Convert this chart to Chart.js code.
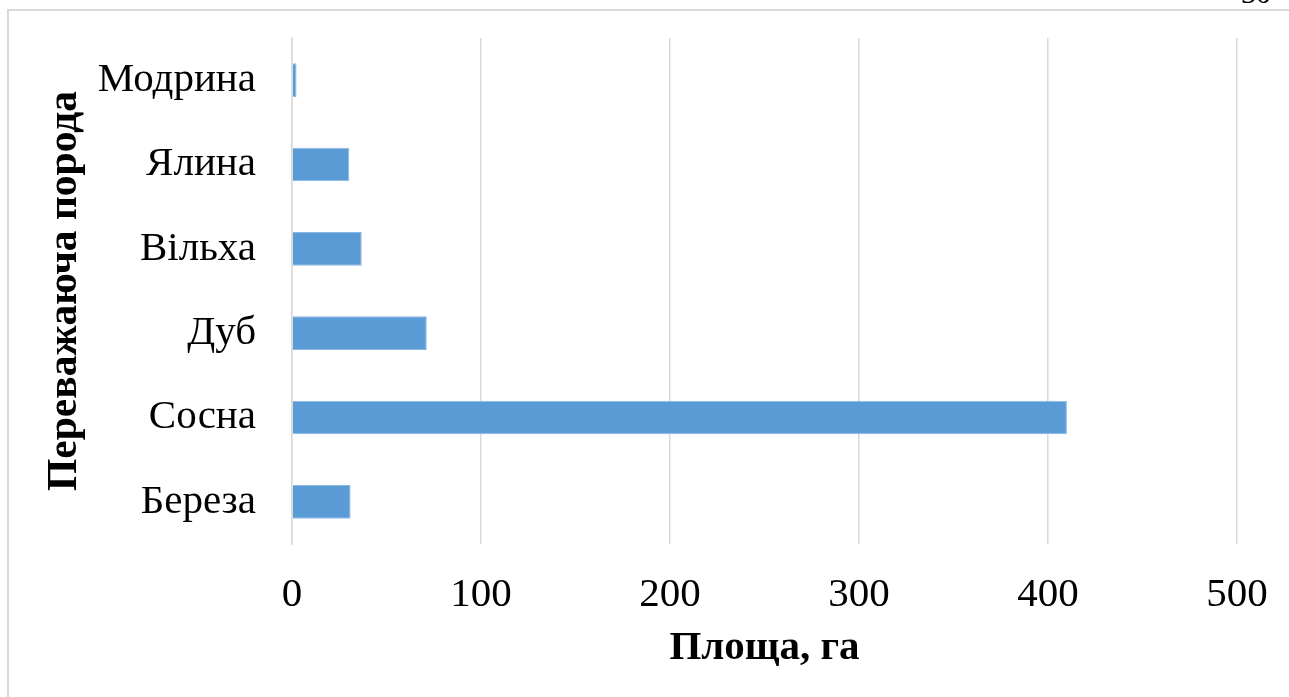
<!DOCTYPE html>
<html lang="uk">
<head>
<meta charset="utf-8">
<title>Площа за переважаючими породами</title>
<script src="https://cdn.jsdelivr.net/npm/chart.js@4/dist/chart.umd.min.js"></script>
<style>
  html, body { margin: 0; padding: 0; background: #ffffff; overflow: hidden; }
  #wrap { position: relative; width: 1289px; height: 697px; }
  #frame {
    position: absolute; left: 7px; top: 9px; width: 1400px; height: 800px;
    border: 2px solid #d9d9d9; box-sizing: border-box;
  }
  #pageNo {
    position: absolute; left: 1241px; top: -22px;
    font: 30px "Liberation Serif", "Times New Roman", serif; line-height: 30px; color: #000;
  }
  #chart { position: absolute; left: 0; top: 0; }
</style>
</head>
<body>
<div id="wrap">
  <div id="frame"></div>
  <div id="pageNo">30</div>
  <canvas id="chart" width="1289" height="697"></canvas>
</div>
<script>
// Species and their area, ha (listed top to bottom)
const species = ['Модрина', 'Ялина', 'Вільха', 'Дуб', 'Сосна', 'Береза'];
const areaHa = [2.4, 30.3, 36.9, 71.3, 410, 31];
const xTicks = [0, 100, 200, 300, 400, 500];

const xTitle = 'Площа, га';
const yTitle = 'Переважаюча порода';

const serif = '"Liberation Serif", "Times New Roman", serif';
const gridColor = '#d9d9d9';

new Chart(document.getElementById('chart'), {
  type: 'bar',
  data: {
    labels: species,
    datasets: [{
      data: areaHa,
      backgroundColor: '#5b9bd5',
      borderColor: '#8ab8e4',
      borderWidth: 1,
      borderSkipped: 'start',
      barPercentage: 0.4,
      categoryPercentage: 1.0
    }]
  },
  options: {
    indexAxis: 'y',
    responsive: false,
    animation: false,
    events: [],
    layout: { padding: { left: 0, top: 38, right: 52, bottom: 0 } },
    plugins: { legend: { display: false }, tooltip: { enabled: false } },
    scales: {
      x: {
        type: 'linear',
        min: xTicks[0],
        max: xTicks[xTicks.length - 1],
        afterBuildTicks: (scale) => { scale.ticks = xTicks.map(v => ({ value: v })); },
        afterFit: (scale) => {
          scale.height = 153;
          scale.paddingRight = 0;
          scale.paddingLeft = 0;
        },
        grid: { color: gridColor, lineWidth: 1.5, drawTicks: false },
        border: { display: false },
        ticks: {
          padding: 27,
          color: '#000',
          font: { family: serif, size: 41, lineHeight: 1.2 }
        },
        title: {
          display: true,
          text: xTitle,
          color: '#000',
          padding: { top: 0, bottom: 24 },
          font: { family: serif, size: 41, weight: 'bold', lineHeight: 1.2 }
        }
      },
      y: {
        afterFit: (scale) => {
          scale.width = 292;
          scale.paddingTop = 0;
          scale.paddingBottom = 0;
        },
        grid: { display: false, drawTicks: false },
        border: { display: true, color: gridColor, width: 1.5 },
        ticks: {
          padding: 36,
          color: '#000',
          font: { family: serif, size: 41, lineHeight: 1.2 }
        },
        title: {
          display: true,
          text: yTitle,
          color: '#000',
          padding: { top: 40, bottom: 0 },
          font: { family: serif, size: 41.5, weight: 'bold', lineHeight: 1.2 }
        }
      }
    }
  }
});
</script>
</body>
</html>
